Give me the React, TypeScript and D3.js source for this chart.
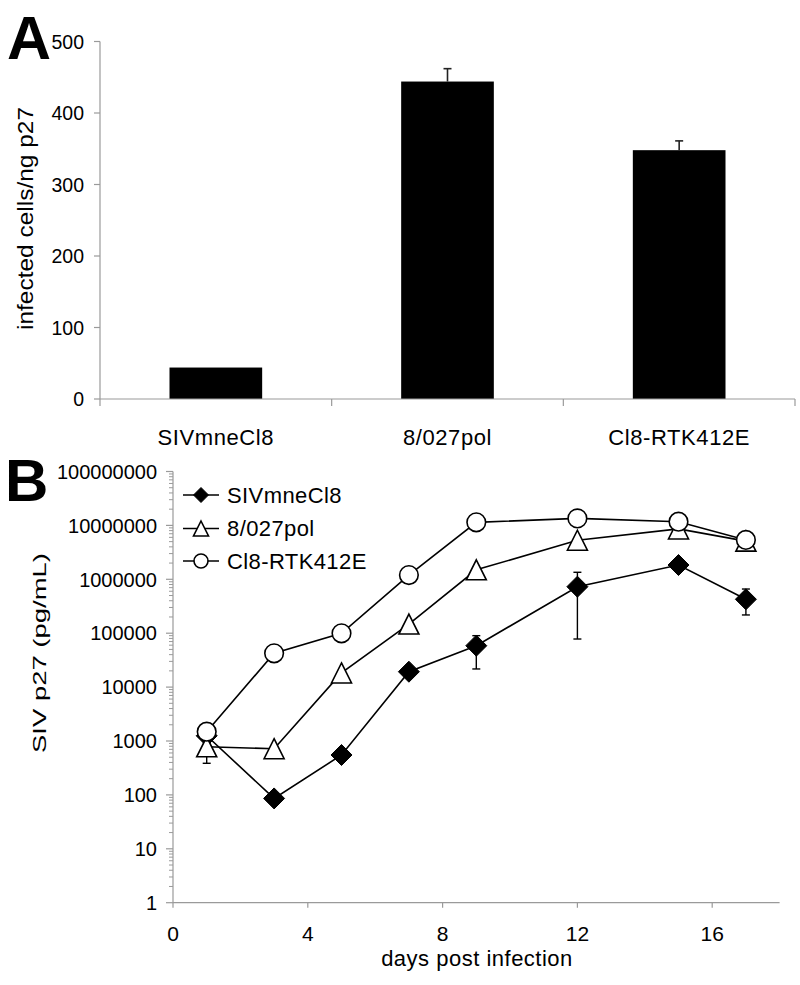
import React from "react";
import * as d3 from "d3";

const categoriesA = ["SIVmneCl8", "8/027pol", "Cl8-RTK412E"];
const valuesA = [44, 444, 348];
const errorsA = [0, 18, 13];
const ticksA = [0, 100, 200, 300, 400, 500];

const days = [1, 3, 5, 7, 9, 12, 15, 17];
const seriesNames = ["SIVmneCl8", "8/027pol", "Cl8-RTK412E"];
const sivValues = [1250, 86, 550, 19300, 58600, 729000, 1840000, 426000];
const polValues = [780, 720, 18300, 148000, 1500000, 5300000, 8600000, 5100000];
const rtkValues = [1490, 42400, 99600, 1200000, 11400000, 13500000, 11700000, 5370000];
// error bars [low, high] per point, null = none visible
const sivErrors: ([number, number] | null)[] = [null, null, null, null, [21700, 90000], [78000, 1350000], null, [218000, 660000]];
const polErrors: ([number, number] | null)[] = [[386, 780], null, null, null, null, null, null, null];
const rtkErrors: ([number, number] | null)[] = [null, null, null, null, null, null, null, null];
const ticksBx = [0, 4, 8, 12, 16];
const ticksBy = [1, 10, 100, 1000, 10000, 100000, 1000000, 10000000, 100000000];

const FONT = "'Liberation Sans', Arial, Helvetica, sans-serif";
const AXIS = "#9a9a9a";

function marker(kind: string, x: number, y: number, s: number, key?: string) {
  if (kind === "diamond") {
    return <path key={key} d={`M${x},${y - s}L${x + s},${y}L${x},${y + s}L${x - s},${y}Z`} fill="#000" stroke="#000" strokeWidth={1} />;
  }
  if (kind === "triangle") {
    return <path key={key} d={`M${x},${y - s}L${x + s},${y + s}L${x - s},${y + s}Z`} fill="#fff" stroke="#000" strokeWidth={1.6} />;
  }
  return <circle key={key} cx={x} cy={y} r={s} fill="#fff" stroke="#000" strokeWidth={1.6} />;
}

export default function App() {
  // Panel A
  const ax0 = 100, ax1 = 795;
  const xA = d3.scaleBand<string>().domain(categoriesA).range([ax0, ax1]).paddingInner(0.6).paddingOuter(0.3);
  const yA = d3.scaleLinear().domain([0, 500]).range([399, 41.5]);
  const bandStep = (ax1 - ax0) / categoriesA.length;

  // Panel B
  const xB = d3.scaleLinear().domain([0, 18]).range([173, 779.6]);
  const yB = d3.scaleLog().domain([1, 1e8]).range([902.7, 471.5]);
  const series = [
    { name: seriesNames[0], values: sivValues, errors: sivErrors, kind: "diamond", size: 10.5 },
    { name: seriesNames[1], values: polValues, errors: polErrors, kind: "triangle", size: 10 },
    { name: seriesNames[2], values: rtkValues, errors: rtkErrors, kind: "circle", size: 9.3 },
  ];
  const line = d3.line<number>().x((_, i) => xB(days[i])).y((v) => yB(v));

  const minorTicks: number[] = [];
  for (let e = 0; e < 8; e++) {
    for (let m = 2; m <= 9; m++) minorTicks.push(m * Math.pow(10, e));
  }
  const legendY = [495, 528.5, 561];

  return (
    <svg width={800} height={985} style={{ position: "absolute", left: 0, top: 0, background: "#fff" }} fontFamily={FONT}>
      <rect x={0} y={0} width={800} height={985} fill="#fff" />
      {/* ---------- Panel A ---------- */}
      <text x={7} y={59} fontSize={61} fontWeight="bold" fill="#000">A</text>
      {categoriesA.map((c, i) => (
        <rect key={c} x={xA(c)!} y={yA(valuesA[i])} width={xA.bandwidth()} height={yA(0) - yA(valuesA[i])} fill="#000" />
      ))}
      {categoriesA.map((c, i) =>
        errorsA[i] > 0 ? (
          <g key={"e" + c} stroke="#222" strokeWidth={1.6}>
            <line x1={xA(c)! + xA.bandwidth() / 2} x2={xA(c)! + xA.bandwidth() / 2} y1={yA(valuesA[i])} y2={yA(valuesA[i] + errorsA[i])} />
            <line x1={xA(c)! + xA.bandwidth() / 2 - 4} x2={xA(c)! + xA.bandwidth() / 2 + 4} y1={yA(valuesA[i] + errorsA[i])} y2={yA(valuesA[i] + errorsA[i])} />
          </g>
        ) : null
      )}
      <line x1={ax0} x2={ax0} y1={yA(500)} y2={406} stroke={AXIS} strokeWidth={1.2} />
      <line x1={ax0} x2={ax1} y1={yA(0)} y2={yA(0)} stroke={AXIS} strokeWidth={1.2} />
      {categoriesA.map((c, i) => (
        <line key={"bt" + c} x1={ax0 + bandStep * (i + 1)} x2={ax0 + bandStep * (i + 1)} y1={yA(0)} y2={406} stroke={AXIS} strokeWidth={1.2} />
      ))}
      {ticksA.map((t) => (
        <g key={"ta" + t}>
          <line x1={94} x2={ax0} y1={yA(t)} y2={yA(t)} stroke={AXIS} strokeWidth={1.2} />
          <text x={84} y={yA(t)} dy="0.36em" textAnchor="end" fontSize={19.5} fill="#000">{t}</text>
        </g>
      ))}
      {categoriesA.map((c) => (
        <text key={"cl" + c} x={xA(c)! + xA.bandwidth() / 2} y={445} textAnchor="middle" fontSize={22} letterSpacing={0.6} fill="#000">{c}</text>
      ))}
      <text transform="translate(33,218.5) rotate(-90)" textAnchor="middle" fontSize={21.5} textLength={223} lengthAdjust="spacingAndGlyphs" fill="#000">infected cells/ng p27</text>

      {/* ---------- Panel B ---------- */}
      <text x={5} y={501} fontSize={60} fontWeight="bold" fill="#000">B</text>
      <line x1={xB(0)} x2={xB(0)} y1={yB(1e8)} y2={yB(1)} stroke={AXIS} strokeWidth={1.2} />
      <line x1={xB(0)} x2={xB(18)} y1={yB(1)} y2={yB(1)} stroke={AXIS} strokeWidth={1.2} />
      {minorTicks.map((t) => (
        <line key={"mt" + t} x1={xB(0) - 4} x2={xB(0)} y1={yB(t)} y2={yB(t)} stroke={AXIS} strokeWidth={1} />
      ))}
      {ticksBy.map((t) => (
        <g key={"tby" + t}>
          <line x1={xB(0) - 7} x2={xB(0)} y1={yB(t)} y2={yB(t)} stroke={AXIS} strokeWidth={1.2} />
          <text x={157} y={yB(t)} dy="0.36em" textAnchor="end" fontSize={20} fill="#000">{t}</text>
        </g>
      ))}
      {ticksBx.map((t) => (
        <g key={"tbx" + t}>
          <line x1={xB(t)} x2={xB(t)} y1={yB(1)} y2={yB(1) + 5} stroke={AXIS} strokeWidth={1.2} />
          <text x={xB(t)} y={940.5} textAnchor="middle" fontSize={21} fill="#000">{t}</text>
        </g>
      ))}
      <text x={477} y={966} textAnchor="middle" fontSize={22} letterSpacing={0.5} fill="#000">days post infection</text>
      <text transform="translate(46,653) rotate(-90)" textAnchor="middle" fontSize={18.5} textLength={200} lengthAdjust="spacingAndGlyphs" fill="#000">SIV p27 (pg/mL)</text>

      {series.map((s) => (
        <path key={"l" + s.name} d={line(s.values)!} fill="none" stroke="#000" strokeWidth={1.6} />
      ))}
      {series.map((s) =>
        s.errors.map((e, i) =>
          e ? (
            <g key={"eb" + s.name + i} stroke="#000" strokeWidth={1.4}>
              <line x1={xB(days[i])} x2={xB(days[i])} y1={yB(e[0])} y2={yB(e[1])} />
              <line x1={xB(days[i]) - 4} x2={xB(days[i]) + 4} y1={yB(e[0])} y2={yB(e[0])} />
              <line x1={xB(days[i]) - 4} x2={xB(days[i]) + 4} y1={yB(e[1])} y2={yB(e[1])} />
            </g>
          ) : null
        )
      )}
      {series.map((s) => (
        <g key={"m" + s.name}>{s.values.map((v, i) => marker(s.kind, xB(days[i]), yB(v), s.size, s.name + i))}</g>
      ))}

      {series.map((s, i) => (
        <g key={"lg" + s.name}>
          <line x1={183} x2={219} y1={legendY[i]} y2={legendY[i]} stroke="#000" strokeWidth={1.6} />
          {marker(s.kind, 201, legendY[i], s.kind === "circle" ? 7 : 7.5)}
          <text x={227} y={legendY[i]} dy="0.36em" fontSize={22} letterSpacing={0.4} fill="#000">{s.name}</text>
        </g>
      ))}
    </svg>
  );
}
